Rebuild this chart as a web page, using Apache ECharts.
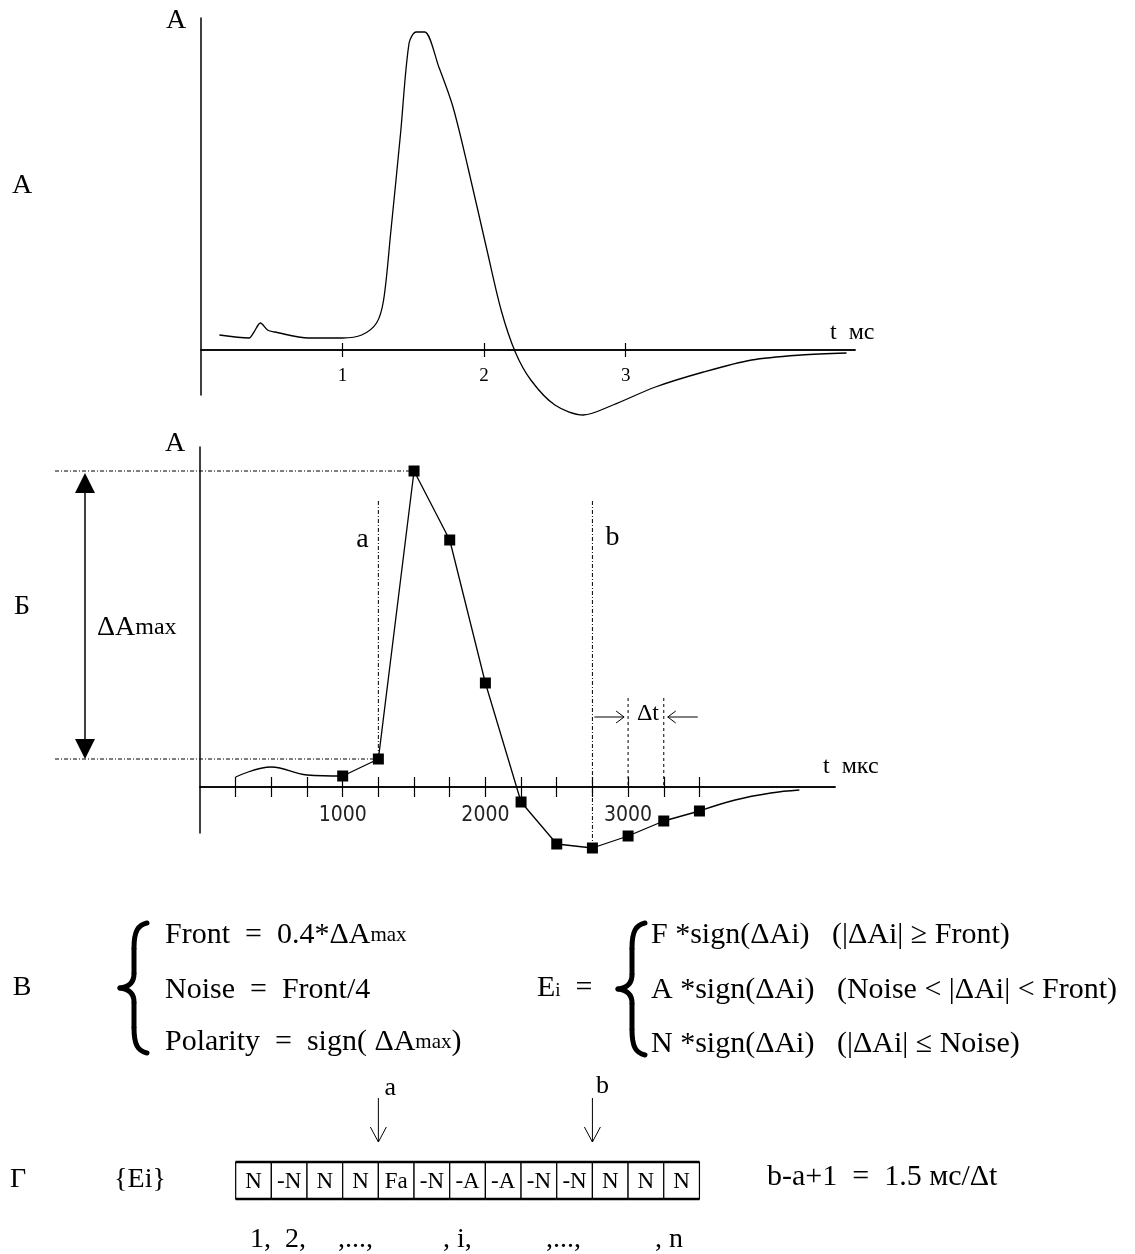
<!DOCTYPE html>
<html>
<head>
<meta charset="utf-8">
<script src="https://cdn.jsdelivr.net/npm/echarts@6/dist/echarts.min.js"></script>
<style>html,body{margin:0;background:#fff}#chart{width:1135px;height:1254px}</style>
</head>
<body>
<div id="chart"></div>
<script>
"use strict";
// panel A: continuous response, t in ms, amplitude in arbitrary units
var pulseT = [0.13, 0.34, 0.37, 0.42, 0.47, 0.52, 0.76, 1.0, 1.135, 1.24, 1.29, 1.34, 1.41, 1.47, 1.52, 1.58, 1.68, 1.78, 1.885, 2.02, 2.12, 2.22, 2.33, 2.5, 2.7, 2.91, 3.21, 3.55, 3.89, 4.24, 4.56];
var pulseA = [15, 12, 17, 27, 20, 18, 12, 12, 15, 27, 50, 117, 217, 307, 318, 318, 283, 243, 183, 100, 40, -2, -30, -55, -65, -55, -37, -22, -10, -5, -3];
var msTicks = [1, 2, 3];

// panel Б: sampled response, t in mks
var leadT = [250, 500, 750, 1000];
var leadA = [10, 20, 12, 11];
var sampleT = [1000, 1250, 1500, 1750, 2000, 2250, 2500, 2750, 3000, 3250, 3500];
var sampleA = [11, 28, 316, 247, 104, -15, -57, -61, -49, -34, -24];
var tailT = [3500, 3750, 4000, 4200];
var tailA = [-24, -13, -6, -3];
var mksTicks = [250, 500, 750, 1000, 1250, 1500, 1750, 2000, 2250, 2500, 2750, 3000, 3250, 3500];
var mksLabels = [1000, 2000, 3000];
var markA = 1250, markB = 2750;      // window a..b
var stepT = [3000, 3250];            // Δt

// panel Г: code sequence {Ei}
var codes = ['N', '-N', 'N', 'N', 'Fa', '-N', '-A', '-A', '-N', '-N', 'N', 'N', 'N'];
var cellStart = [250, 500, 750, 1000, 1250, 1500, 1750, 2000, 2250, 2500, 2750, 3000, 3250];
var cellEnd = [500, 750, 1000, 1250, 1500, 1750, 2000, 2250, 2500, 2750, 3000, 3250, 3500];

var SERIF = "'Liberation Serif', 'DejaVu Serif', serif";
var NARROW = "'Liberation Sans Narrow', 'DejaVu Sans Condensed', sans-serif";

var gridA = { left: 201, top: 18, width: 654, height: 377 };
var gridB = { left: 200, top: 447, width: 635, height: 386 };
var rangeA = [-45, 332], rangeB = [-46, 340];

function zip(xs, ys) {
  return xs.map(function (x, i) { return [x, ys[i]]; });
}
// distance of the zero line from the grid bottom
function zeroOffset(range, h) {
  return h * (0 - range[0]) / (range[1] - range[0]);
}
function timeAxis(gi, max, ticks, labels, label, up, off) {
  return {
    gridIndex: gi, type: 'value', min: 0, max: max, position: up ? 'top' : 'bottom', offset: -off,
    axisLine: { onZero: false, lineStyle: { color: '#000', width: 1.5 } },
    axisTick: { customValues: ticks, length: gi === 0 ? 7 : 10, lineStyle: { color: '#000', width: 1.2 } },
    axisLabel: up ? { show: false } : Object.assign({ customValues: labels }, label),
    splitLine: { show: false }
  };
}
function ampAxis(gi, range) {
  return { gridIndex: gi, type: 'value', min: range[0], max: range[1],
    axisLine: { show: true, onZero: false, lineStyle: { color: '#000', width: 1.5 } },
    axisTick: { show: false }, axisLabel: { show: false }, splitLine: { show: false } };
}

var offA = zeroOffset(rangeA, gridA.height), offB = zeroOffset(rangeB, gridB.height);
var msLabel = { color: '#000', fontFamily: SERIF, fontSize: 19, margin: 17 };
var mksLabel = { color: '#222', fontFamily: NARROW, fontSize: 21, margin: 18,
  formatter: function (v) { return String(v); } };
var black = { color: '#000', width: 1.3 };

var chart = echarts.init(document.getElementById('chart'));
chart.setOption({
  backgroundColor: '#fff',
  animation: false,
  grid: [gridA, gridB, { left: 200, top: 1162, width: 635, height: 37 }],
  xAxis: [
    timeAxis(0, 4.62, msTicks, msTicks, msLabel, false, offA),
    timeAxis(0, 4.62, msTicks, msTicks, msLabel, true, gridA.height - offA),
    timeAxis(1, 4450, mksTicks, mksLabels, mksLabel, false, offB),
    timeAxis(1, 4450, mksTicks, mksLabels, mksLabel, true, gridB.height - offB),
    { gridIndex: 2, type: 'value', min: 0, max: 4450, show: false }
  ],
  yAxis: [
    ampAxis(0, rangeA),
    ampAxis(1, rangeB),
    { gridIndex: 2, type: 'value', min: 0, max: 1, show: false }
  ],
  series: [
    { name: 'pulse', type: 'line', xAxisIndex: 0, yAxisIndex: 0, data: zip(pulseT, pulseA),
      smooth: 0.3, showSymbol: false, clip: false, lineStyle: black },
    { name: 'lead', type: 'line', xAxisIndex: 2, yAxisIndex: 1, data: zip(leadT, leadA),
      smooth: 0.4, showSymbol: false, clip: false, lineStyle: black },
    { name: 'samples', type: 'line', xAxisIndex: 2, yAxisIndex: 1, data: zip(sampleT, sampleA),
      symbol: 'rect', symbolSize: 11, showAllSymbol: true, clip: false,
      itemStyle: { color: '#000' }, lineStyle: black, z: 5 },
    { name: 'tail', type: 'line', xAxisIndex: 2, yAxisIndex: 1, data: zip(tailT, tailA),
      smooth: 0.4, showSymbol: false, clip: false, lineStyle: black },
    { name: 'codes', type: 'custom', xAxisIndex: 4, yAxisIndex: 2,
      data: cellStart.map(function (s, i) { return [s, cellEnd[i]]; }),
      renderItem: function (params, api) {
        var p0 = api.coord([api.value(0), 1]);
        var p1 = api.coord([api.value(1), 0]);
        return { type: 'group', children: [
          { type: 'rect', shape: { x: p0[0], y: p0[1], width: p1[0] - p0[0], height: p1[1] - p0[1] },
            style: { fill: '#fff', stroke: '#000', lineWidth: 1.2 } },
          { type: 'line', shape: { x1: p0[0], y1: p0[1], x2: p1[0], y2: p0[1] }, style: { stroke: '#000', lineWidth: 2.5 } },
          { type: 'line', shape: { x1: p0[0], y1: p1[1], x2: p1[0], y2: p1[1] }, style: { stroke: '#000', lineWidth: 2.5 } },
          { type: 'text', style: { text: codes[params.dataIndex], x: (p0[0] + p1[0]) / 2, y: (p0[1] + p1[1]) / 2 + 1,
            align: 'center', verticalAlign: 'middle', font: '23px ' + SERIF, fill: '#000' } }
        ] };
      } }
  ]
});

// annotations, placed through the axes
function px(panel, t, a) {
  return panel === 0 ? chart.convertToPixel({ xAxisIndex: 0, yAxisIndex: 0 }, [t, a])
    : chart.convertToPixel({ xAxisIndex: 2, yAxisIndex: 1 }, [t, a]);
}
function txt(s, x, y, size, align, rich) {
  return { type: 'text', silent: true, style: { text: s, x: x, y: y, font: size + 'px ' + SERIF, fill: '#000',
    align: align || 'center', verticalAlign: 'middle', rich: rich } };
}
function seg(x1, y1, x2, y2, w, dash) {
  return { type: 'line', silent: true, shape: { x1: x1, y1: y1, x2: x2, y2: y2 },
    style: { stroke: '#000', lineWidth: w || 1, lineDash: dash || null } };
}
function curve(x1, y1, c1x, c1y, c2x, c2y, x2, y2) {
  return { type: 'bezierCurve', silent: true,
    shape: { x1: x1, y1: y1, cpx1: c1x, cpy1: c1y, cpx2: c2x, cpy2: c2y, x2: x2, y2: y2 },
    style: { fill: null, stroke: '#000', lineWidth: 5, lineCap: 'round' } };
}
function brace(x0, yT, yB) {
  var m = (yT + yB) / 2, v = x0 + 14, e = x0 + 27;
  return [
    curve(e, yT, x0 + 18, yT + 2, v, yT + 8, v, yT + 25),
    seg(v, yT + 25, v, m - 14, 5),
    curve(v, m - 14, v, m - 5, x0 + 8, m - 1, x0, m),
    curve(x0, m, x0 + 8, m + 1, v, m + 5, v, m + 14),
    seg(v, m + 14, v, yB - 25, 5),
    curve(v, yB - 25, v, yB - 8, x0 + 18, yB - 2, e, yB)
  ];
}
function arrowDown(x, y1, y2) {
  return [seg(x, y1, x, y2, 1), seg(x - 8, y2 - 15, x, y2, 1), seg(x + 8, y2 - 15, x, y2, 1)];
}

var dotDash = [4, 2, 1, 2];
var pPeak = px(1, sampleT[2], sampleA[2]);
var pA = px(1, markA, sampleA[1]);
var pB = px(1, markB, sampleA[7]);
var pS0 = px(1, stepT[0], 0);
var pS1 = px(1, stepT[1], 0);
var cellA = chart.convertToPixel({ xAxisIndex: 4, yAxisIndex: 2 }, [markA, 1]);
var cellB = chart.convertToPixel({ xAxisIndex: 4, yAxisIndex: 2 }, [markB, 1]);
var sub = { s: { font: '21px ' + SERIF, fill: '#000' }, m: { font: '24px ' + SERIF, fill: '#000' },
  i: { font: '19px ' + SERIF, fill: '#000', padding: [0, 0, -7, 0] } };

var g = [
  // row labels
  txt('А', 22, 186, 28), txt('Б', 22, 607, 28), txt('В', 22, 988, 28), txt('Г', 18, 1180, 28),
  // panel A
  txt('A', 176, 21, 28), txt('t  мс', 830, 333, 24, 'left'),
  // panel Б
  txt('A', 175, 444, 28), txt('t  мкс', 823, 767, 24, 'left'),
  seg(55, pPeak[1], pPeak[0], pPeak[1], 1, dotDash),
  seg(55, pA[1], pA[0], pA[1], 1, dotDash),
  seg(pA[0], 501, pA[0], pA[1], 1, dotDash),
  seg(pB[0], 501, pB[0], pB[1], 1, dotDash),
  seg(pS0[0], 698, pS0[0], pS0[1], 1, [3, 3]),
  seg(pS1[0], 698, pS1[0], pS1[1], 1, [3, 3]),
  txt('a', pA[0] - 16, 540, 28), txt('b', pB[0] + 20, 538, 28),
  seg(pB[0] + 2, 717, pS0[0] - 4, 717, 1), seg(pS0[0] - 12, 711, pS0[0] - 4, 717, 1), seg(pS0[0] - 12, 723, pS0[0] - 4, 717, 1),
  seg(pS1[0] + 34, 717, pS1[0] + 4, 717, 1), seg(pS1[0] + 12, 711, pS1[0] + 4, 717, 1), seg(pS1[0] + 12, 723, pS1[0] + 4, 717, 1),
  txt('Δt', (pS0[0] + pS1[0]) / 2 + 2, 714, 24),
  seg(85, pPeak[1] + 18, 85, pA[1] - 18, 1.5),
  { type: 'polygon', silent: true, shape: { points: [[85, pPeak[1] + 2], [75, pPeak[1] + 22], [95, pPeak[1] + 22]] }, style: { fill: '#000' } },
  { type: 'polygon', silent: true, shape: { points: [[85, pA[1]], [75, pA[1] - 20], [95, pA[1] - 20]] }, style: { fill: '#000' } },
  txt('ΔA{m|max}', 97, 628, 28, 'left', sub),
  // panel В
  txt('Front  =  0.4*ΔA{s|max}', 165, 935, 30, 'left', sub),
  txt('Noise  =  Front/4', 165, 990, 30, 'left', sub),
  txt('Polarity  =  sign( ΔA{s|max})', 165, 1042, 30, 'left', sub),
  txt('E{i|i}  =', 537, 988, 30, 'left', sub),
  txt('F *sign(ΔAi)   (|ΔAi| ≥ Front)', 651, 935, 30, 'left'),
  txt('A *sign(ΔAi)   (Noise < |ΔAi| < Front)', 651, 990, 30, 'left'),
  txt('N *sign(ΔAi)   (|ΔAi| ≤ Noise)', 651, 1044, 30, 'left'),
  // panel Г
  txt('a', cellA[0] + 12, 1088, 26), txt('b', cellB[0] + 10, 1086, 26),
  txt('{Ei}', 140, 1180, 28),
  txt('b-a+1  =  1.5 мс/Δt', 767, 1177, 30, 'left'),
  txt('1,  2,', 250, 1240, 28, 'left'), txt(',...,', 338, 1240, 28, 'left'),
  txt(', i,', 443, 1240, 28, 'left'), txt(',...,', 546, 1240, 28, 'left'), txt(', n', 655, 1240, 28, 'left')
];
g = g.concat(brace(120, 923, 1053), brace(618, 923, 1055),
  arrowDown(cellA[0], 1098, 1142), arrowDown(cellB[0], 1098, 1142));
chart.setOption({ graphic: g });
</script>
</body>
</html>
